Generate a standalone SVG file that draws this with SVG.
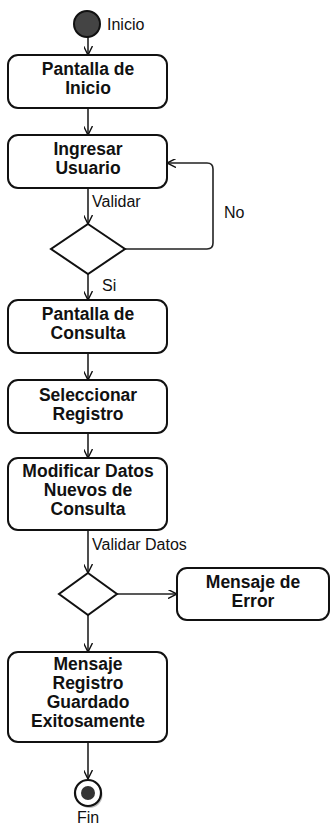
<svg xmlns="http://www.w3.org/2000/svg" width="332" height="827" viewBox="0 0 332 827">
<defs>
<marker id="arr" viewBox="0 0 10 10" refX="10" refY="5" markerWidth="9" markerHeight="9" markerUnits="userSpaceOnUse" orient="auto">
<path d="M0,0 L10,5 L0,10" fill="none" stroke="#111" stroke-width="1.6"/>
</marker>
</defs>
<style>
.box{fill:#fff;stroke:#111;stroke-width:2}
.t{font-family:"Liberation Sans",Arial,sans-serif;font-weight:bold;font-size:17.5px;fill:#111;text-anchor:middle}
.l{font-family:"Liberation Sans",Arial,sans-serif;font-size:16px;fill:#111}
.c{fill:none;stroke:#222;stroke-width:1.6}
.dia{fill:#fff;stroke:#111;stroke-width:2}
</style>
<rect width="332" height="827" fill="#fff"/>
<g id="connectors">
<line class="c" x1="88" y1="37" x2="88" y2="55" marker-end="url(#arr)"/>
<line class="c" x1="88" y1="108" x2="88" y2="135" marker-end="url(#arr)"/>
<line class="c" x1="88" y1="188" x2="88" y2="224" marker-end="url(#arr)"/>
<path class="c" d="M125,249 H207 Q213,249 213,243 V169 Q213,163 207,163 H167" marker-end="url(#arr)"/>
<line class="c" x1="88" y1="274" x2="88" y2="300" marker-end="url(#arr)"/>
<line class="c" x1="88" y1="353" x2="88" y2="380" marker-end="url(#arr)"/>
<line class="c" x1="88" y1="433" x2="88" y2="458" marker-end="url(#arr)"/>
<line class="c" x1="88" y1="530" x2="88" y2="573" marker-end="url(#arr)"/>
<line class="c" x1="117" y1="594" x2="177" y2="594" marker-end="url(#arr)"/>
<line class="c" x1="88" y1="615" x2="88" y2="652" marker-end="url(#arr)"/>
<line class="c" x1="88" y1="742" x2="88" y2="779" marker-end="url(#arr)"/>
<text class="l" x="92" y="207">Validar</text>
<text class="l" x="224" y="218">No</text>
<text class="l" x="102" y="291">Si</text>
<text class="l" x="92" y="550">Validar Datos</text>
</g>
<g id="start">
<circle cx="87" cy="24" r="13" fill="#444" stroke="#111" stroke-width="2"/>
<text class="l" x="107" y="30" font-size="14">Inicio</text>
</g>
<g id="pantalla-inicio">
<rect class="box" x="8" y="55" width="159" height="53" rx="10"/>
<text class="t" x="88" y="75">Pantalla de</text>
<text class="t" x="88" y="94">Inicio</text>
</g>
<g id="ingresar-usuario">
<rect class="box" x="8" y="135" width="159" height="53" rx="10"/>
<text class="t" x="88" y="155">Ingresar</text>
<text class="t" x="88" y="174">Usuario</text>
</g>
<g id="decision1">
<polygon class="dia" points="88,224 125,249 88,274 51,249"/>
</g>
<g id="pantalla-consulta">
<rect class="box" x="8" y="300" width="159" height="53" rx="10"/>
<text class="t" x="88" y="320">Pantalla de</text>
<text class="t" x="88" y="339">Consulta</text>
</g>
<g id="seleccionar-registro">
<rect class="box" x="8" y="380" width="159" height="53" rx="10"/>
<text class="t" x="88" y="401">Seleccionar</text>
<text class="t" x="88" y="420">Registro</text>
</g>
<g id="modificar-datos">
<rect class="box" x="8" y="458" width="159" height="72" rx="10"/>
<text class="t" x="88" y="477">Modificar Datos</text>
<text class="t" x="88" y="496">Nuevos de</text>
<text class="t" x="88" y="515">Consulta</text>
</g>
<g id="decision2">
<polygon class="dia" points="88,573 117,594 88,615 59,594"/>
</g>
<g id="mensaje-error">
<rect class="box" x="177" y="568" width="152" height="52" rx="10"/>
<text class="t" x="253" y="588">Mensaje de</text>
<text class="t" x="253" y="607">Error</text>
</g>
<g id="mensaje-registro">
<rect class="box" x="8" y="652" width="159" height="90" rx="10"/>
<text class="t" x="88" y="670">Mensaje</text>
<text class="t" x="88" y="689">Registro</text>
<text class="t" x="88" y="708">Guardado</text>
<text class="t" x="88" y="727">Exitosamente</text>
</g>
<g id="end">
<circle cx="89.5" cy="795" r="13" fill="#bbb"/>
<circle cx="88" cy="793" r="13" fill="#fff" stroke="#111" stroke-width="2.2"/>
<circle cx="88" cy="793" r="7" fill="#333"/>
<text class="l" x="88" y="823" text-anchor="middle" font-size="15">Fin</text>
</g>
</svg>
